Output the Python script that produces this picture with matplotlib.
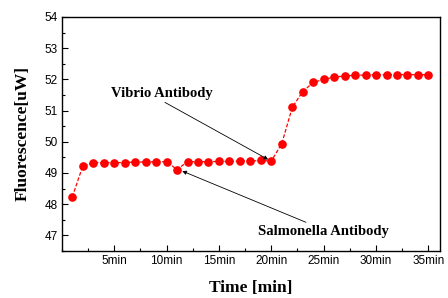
import matplotlib
matplotlib.use("Agg")
import matplotlib.pyplot as plt
from matplotlib.ticker import MultipleLocator

# data
time_min = list(range(1, 36))
fluor_uw = [48.23, 49.22, 49.33, 49.33, 49.33, 49.33, 49.35, 49.35, 49.36, 49.36,
            49.11, 49.36, 49.36, 49.36, 49.37, 49.37, 49.38, 49.38, 49.40, 49.38,
            49.94, 51.10, 51.61, 51.90, 52.00, 52.07, 52.11, 52.13, 52.14, 52.15,
            52.15, 52.15, 52.15, 52.15, 52.15]
xtick_pos = [5, 10, 15, 20, 25, 30, 35]
xtick_lbl = ["5min", "10min", "15min", "20min", "25min", "30min", "35min"]
ytick_pos = [47, 48, 49, 50, 51, 52, 53, 54]

serif = "Liberation Serif"
sans = "Liberation Sans"

fig = plt.figure(figsize=(4.48, 2.98), dpi=100)
ax = fig.add_axes([0.138, 0.158, 0.844, 0.785])

ax.plot(time_min, fluor_uw, color="red", ls="--", lw=0.9, dashes=(3, 1.5),
        marker="o", ms=5.2, mec="red", mfc="red")

ax.set_xlim(0, 36.1)
ax.set_ylim(46.5, 54)
ax.set_xticks(xtick_pos)
ax.set_xticklabels(xtick_lbl, fontfamily=sans, fontsize=8.5)
ax.set_yticks(ytick_pos)
ax.set_yticklabels([str(v) for v in ytick_pos], fontfamily=sans, fontsize=8.5)
ax.xaxis.set_minor_locator(MultipleLocator(2.5))
ax.yaxis.set_minor_locator(MultipleLocator(0.5))
ax.tick_params(which="both", direction="in", top=False, right=False, width=0.8)
ax.tick_params(which="major", length=4, pad=3)
ax.tick_params(which="minor", length=2)
for s in ax.spines.values():
    s.set_linewidth(1.0)

ax.set_xlabel("Time [min]", fontfamily=serif, fontweight="bold", fontsize=12.5, labelpad=9)
ax.set_ylabel("Fluorescence[uW]", fontfamily=serif, fontweight="bold", fontsize=12.5, labelpad=10)

ax.annotate("Vibrio Antibody", xy=(time_min[19] - 0.3, fluor_uw[19] + 0.05),
            xytext=(4.7, 51.56), fontfamily=serif, fontweight="bold", fontsize=10.5,
            arrowprops=dict(arrowstyle="-|>", color="black", lw=0.6, mutation_scale=6,
                            shrinkA=0, shrinkB=0, relpos=(0.48, 0.0)),
            ha="left", va="center")
ax.annotate("Salmonella Antibody", xy=(time_min[10] + 0.5, fluor_uw[10] - 0.05),
            xytext=(18.7, 47.12), fontfamily=serif, fontweight="bold", fontsize=10.5,
            arrowprops=dict(arrowstyle="-|>", color="black", lw=0.6, mutation_scale=6,
                            shrinkA=0, shrinkB=0, relpos=(0.42, 1.0)),
            ha="left", va="center")

fig.savefig("out.png", dpi=100)
